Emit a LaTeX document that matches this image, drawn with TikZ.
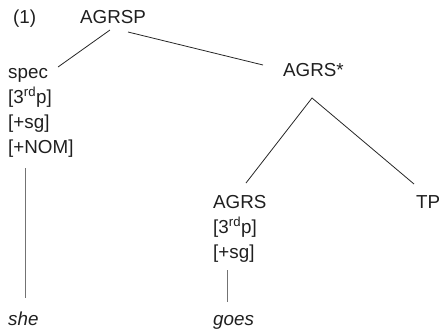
\documentclass[tikz,border=0pt]{standalone}
\usepackage{fontspec}
\setmainfont{Liberation Sans}
\begin{document}
\begin{tikzpicture}[x=1pt,y=-1pt,
  lbl/.style={inner sep=0pt,anchor=base west,font=\fontsize{18.8}{22}\selectfont,text=black!88},
  branch/.style={draw=black!85,line width=0.8pt},
  stem/.style={draw=black!55,line width=1pt}]
\useasboundingbox (0,0) rectangle (439,330);
% labels
\node[lbl] (num) at (13,23) {(1)};
\node[lbl] (agrsp) at (80,23) {AGRSP};
\node[lbl] (spec) at (8,78) {spec};
\node[lbl] (spec3) at (8,103) {[3\textsuperscript{rd}p]};
\node[lbl] (specsg) at (8,128) {[+sg]};
\node[lbl] (specnom) at (8,153) {[+NOM]};
\node[lbl] (agrsbar) at (283,76) {AGRS*};
\node[lbl] (agrs) at (213,208) {AGRS};
\node[lbl] (agrs3) at (213,233) {[3\textsuperscript{rd}p]};
\node[lbl] (agrssg) at (213,258) {[+sg]};
\node[lbl] (tp) at (416,208) {TP};
\node[lbl] (she) at (8,325) {\itshape she};
\node[lbl] (goes) at (213,325) {\itshape goes};
% connector end points
\coordinate (a1) at (110,30);
\coordinate (a2) at (128,32);
\coordinate (s1) at (58,67);
\coordinate (b1) at (263,65);
\coordinate (b2) at (312,98);
\coordinate (c1) at (246,183);
\coordinate (c2) at (414,184);
\coordinate (sh1) at (25,168);
\coordinate (sh2) at (25,298);
\coordinate (g1) at (227,270);
\coordinate (g2) at (227,302);
% connectors
\draw[branch] (a1) -- (s1);
\draw[branch] (a2) -- (b1);
\draw[branch] (c1) -- (b2) -- (c2);
\draw[stem] (sh1) -- (sh2);
\draw[stem] (g1) -- (g2);
\end{tikzpicture}
\end{document}
